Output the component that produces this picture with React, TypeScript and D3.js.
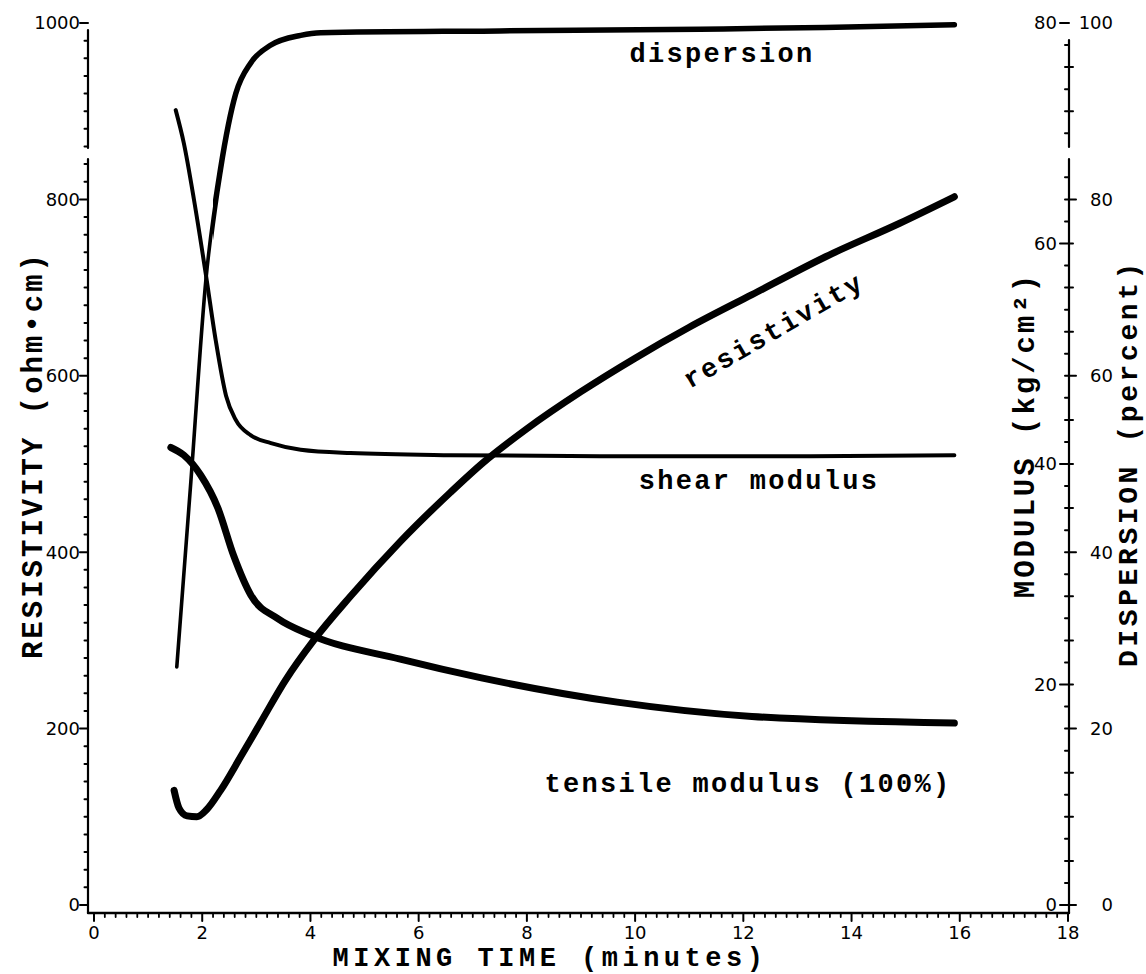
import React from "react";
import * as d3 from "d3";

// Mixing time (minutes) vs. measured property
const DISPERSION: [number, number][] = [
  [1.53, 27], [1.79, 48], [2.07, 71], [2.34, 83.5], [2.62, 92], [2.9, 95.5],
  [3.27, 97.5], [3.82, 98.6], [4.19, 98.9], [7.5, 99.1], [11.2, 99.3], [13.5, 99.5], [15.9, 99.8],
];
const SHEAR_MODULUS: [number, number][] = [
  [1.51, 72.1], [1.66, 69.1], [1.85, 63.9], [2.07, 57.1], [2.25, 51.2], [2.44, 46.2],
  [2.62, 44.0], [2.9, 42.6], [3.27, 41.9], [3.82, 41.3], [4.74, 41.0], [6.59, 40.8],
  [9.35, 40.7], [13.0, 40.7], [15.9, 40.8],
];
const TENSILE_MODULUS: [number, number][] = [
  [1.42, 41.5], [1.66, 40.8], [1.97, 39.0], [2.29, 36.0], [2.58, 31.7], [2.9, 28.1],
  [3.39, 26.0], [4.0, 24.5], [5.66, 22.3], [7.16, 20.6], [9.67, 18.4], [12.16, 17.1], [15.9, 16.5],
];
const RESISTIVITY: [number, number][] = [
  [1.48, 130], [1.57, 110], [1.72, 101], [1.9, 100], [2.08, 108], [2.34, 130], [2.71, 168],
  [3.08, 207], [3.54, 255], [4.06, 300], [4.74, 350], [5.66, 412], [6.59, 468], [7.2, 502],
  [8.0, 540], [9.0, 582], [10.0, 620], [11.0, 655], [12.16, 692], [13.52, 735], [14.89, 773],
  [15.9, 803],
];

const X_TICKS = [0, 2, 4, 6, 8, 10, 12, 14, 16, 18];
const RES_TICKS = [0, 200, 400, 600, 800, 1000];
const MOD_TICKS = [0, 20, 40, 60, 80];
const DISP_TICKS = [0, 20, 40, 60, 80, 100];

const W = 1146;
const H = 974;
const LEFT_X = 88;
const RIGHT_X = 1069;
const BOTTOM_Y = 913;
const BREAK_TOP = 148;
const BREAK_BOTTOM = 159;

const TITLE_FONT = "'Liberation Mono', 'DejaVu Sans Mono', monospace";
const TICK_FONT = "'DejaVu Sans', sans-serif";

export default function App() {
  const x = d3.scaleLinear().domain([0, 18]).range([94, 1068]);
  const yRes = d3.scaleLinear().domain([0, 1000]).range([905, 23]);
  const yMod = d3.scaleLinear().domain([0, 80]).range([905, 23]);
  const yDisp = d3.scaleLinear().domain([0, 100]).range([905, 23]);

  const mk = (ys: d3.ScaleLinear<number, number>) =>
    d3
      .line<[number, number]>()
      .x((d) => x(d[0]))
      .y((d) => ys(d[1]))
      .curve(d3.curveMonotoneX);

  const inGap = (py: number) => py > BREAK_TOP - 1 && py < BREAK_BOTTOM + 1;

  const resMinor = d3.range(0, 1001, 20).filter((v) => v % 200 !== 0 && !inGap(yRes(v)));
  const xMinor = d3.range(0, 90).map((i) => i * 0.2).filter((v) => Math.abs(v / 2 - Math.round(v / 2)) > 1e-6);
  const modMinor = d3.range(0, 81, 2).filter((v) => v % 20 !== 0 && !inGap(yMod(v)) && yMod(v) > 40);
  const dispMinor = d3.range(0, 101, 5).filter((v) => v % 20 !== 0 && !inGap(yDisp(v)) && yDisp(v) > 40);

  const dispersionPath = mk(yDisp)(DISPERSION) ?? "";

  const titleStyle: React.CSSProperties = {
    fontFamily: TITLE_FONT,
    fontWeight: "bold",
    fontSize: 29,
    letterSpacing: 3,
  };
  const noteStyle: React.CSSProperties = {
    fontFamily: TITLE_FONT,
    fontWeight: "bold",
    fontSize: 27,
    letterSpacing: 2.3,
  };
  const tickStyle: React.CSSProperties = { fontFamily: TICK_FONT, fontSize: 18 };

  return (
    <svg
      width={W}
      height={H}
      viewBox={`0 0 ${W} ${H}`}
      style={{ position: "absolute", left: 0, top: 0, background: "#fff" }}
    >
      <defs>
        {/* the dispersion trace gets heavier once it starts to level off */}
        <clipPath id="disp-heavy">
          <rect x={x(2.2)} y={0} width={W} height={H} />
        </clipPath>
      </defs>
      <rect width={W} height={H} fill="#fff" />

      {/* left axis (resistivity) */}
      <g stroke="#000" fill="none" strokeLinecap="round">
        <path d={`M${LEFT_X},30 V${BREAK_TOP} M${LEFT_X},${BREAK_BOTTOM} V${BOTTOM_Y}`} strokeWidth={2.2} />
        {RES_TICKS.map((v) => (
          <line key={v} x1={LEFT_X - 8} x2={LEFT_X} y1={yRes(v)} y2={yRes(v)} strokeWidth={2} />
        ))}
        {resMinor.map((v) => (
          <line key={v} x1={LEFT_X - 3.5} x2={LEFT_X} y1={yRes(v)} y2={yRes(v)} strokeWidth={2} />
        ))}
      </g>
      <g style={tickStyle} textAnchor="end">
        {RES_TICKS.map((v) => (
          <text key={v} x={80} y={yRes(v)} dy="0.36em">
            {v}
          </text>
        ))}
      </g>

      {/* bottom axis (mixing time) */}
      <g stroke="#000" fill="none" strokeLinecap="round">
        <path d={`M${LEFT_X},${BOTTOM_Y} H${RIGHT_X}`} strokeWidth={2.4} />
        {X_TICKS.map((v) => (
          <line key={v} x1={x(v)} x2={x(v)} y1={BOTTOM_Y} y2={BOTTOM_Y + 8} strokeWidth={2} />
        ))}
        {xMinor.map((v, i) => (
          <line key={i} x1={x(v)} x2={x(v)} y1={BOTTOM_Y} y2={BOTTOM_Y + 4} strokeWidth={1.8} />
        ))}
      </g>
      <g style={tickStyle} textAnchor="middle">
        {X_TICKS.map((v) => (
          <text key={v} x={x(v)} y={933} dy="0.36em">
            {v}
          </text>
        ))}
      </g>

      {/* right axis (modulus on the inside, dispersion on the outside) */}
      <g stroke="#000" fill="none" strokeLinecap="round">
        <path d={`M${RIGHT_X},40 V${BREAK_TOP - 1} M${RIGHT_X},${BREAK_BOTTOM} V${BOTTOM_Y}`} strokeWidth={2.2} />
        {MOD_TICKS.map((v) => (
          <line key={v} x1={RIGHT_X - 9} x2={RIGHT_X} y1={yMod(v)} y2={yMod(v)} strokeWidth={2} />
        ))}
        {modMinor.map((v) => (
          <line key={v} x1={RIGHT_X - 4} x2={RIGHT_X} y1={yMod(v)} y2={yMod(v)} strokeWidth={2} />
        ))}
        {DISP_TICKS.filter((v) => v < 100).map((v) => (
          <line key={v} x1={RIGHT_X} x2={RIGHT_X + 7} y1={yDisp(v)} y2={yDisp(v)} strokeWidth={2} />
        ))}
        {dispMinor.map((v) => (
          <line key={v} x1={RIGHT_X} x2={RIGHT_X + 4} y1={yDisp(v)} y2={yDisp(v)} strokeWidth={2} />
        ))}
      </g>
      <g style={tickStyle} textAnchor="end">
        {MOD_TICKS.map((v) => (
          <text key={v} x={1057} y={yMod(v)} dy="0.36em">
            {v}
          </text>
        ))}
        {DISP_TICKS.map((v) => (
          <text key={v} x={1113} y={yDisp(v)} dy="0.36em">
            {v}
          </text>
        ))}
      </g>

      {/* curves */}
      <g fill="none" stroke="#000" strokeLinecap="round" strokeLinejoin="round">
        <path d={dispersionPath} strokeWidth={3.6} />
        <path d={dispersionPath} strokeWidth={5.5} clipPath="url(#disp-heavy)" />
        <path d={mk(yMod)(SHEAR_MODULUS) ?? ""} strokeWidth={4} />
        <path d={mk(yMod)(TENSILE_MODULUS) ?? ""} strokeWidth={7} />
        <path d={mk(yRes)(RESISTIVITY) ?? ""} strokeWidth={7} />
      </g>

      {/* curve annotations */}
      <g style={noteStyle} textAnchor="middle">
        <text x={722} y={62}>dispersion</text>
        <text x={759} y={489}>shear modulus</text>
        <text x={748} y={792}>tensile modulus (100%)</text>
        <text x={0} y={0} transform={`translate(778,338) rotate(-30)`}>
          resistivity
        </text>
      </g>

      {/* axis titles */}
      <g style={titleStyle} textAnchor="middle">
        <text x={550} y={966} style={{ fontSize: 27, letterSpacing: 4.5 }}>
          MIXING TIME (minutes)
        </text>
        <text transform={`translate(42,455) rotate(-90)`}>RESISTIVITY (ohm•cm)</text>
        <text transform={`translate(1034,435) rotate(-90)`}>MODULUS (kg/cm²)</text>
        <text transform={`translate(1137,463) rotate(-90)`} style={{ fontSize: 28, letterSpacing: 3.6 }}>
          DISPERSION (percent)
        </text>
      </g>
    </svg>
  );
}
